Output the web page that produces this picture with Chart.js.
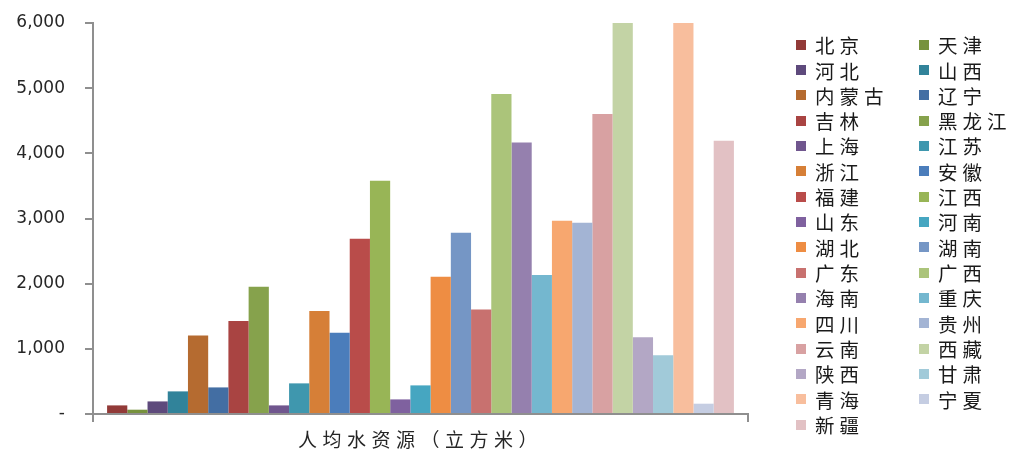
<!DOCTYPE html>
<html>
<head>
<meta charset="utf-8">
<script src="https://cdn.jsdelivr.net/npm/chart.js@4/dist/chart.umd.min.js"></script>
<style>
  html, body { margin: 0; padding: 0; background: #fff; }
  #wrap { position: relative; width: 1010px; height: 450px; }
  #legend {
    position: absolute; left: 796px; top: 32px;
    display: grid; grid-template-columns: 123px 100px; grid-auto-rows: 25.33px;
    font-family: "Noto Sans CJK SC", sans-serif; font-size: 19.5px; color: #1a1a1a;
    letter-spacing: 5px;
  }
  #legend div { display: flex; align-items: center; white-space: nowrap; }
  #legend span.box { width: 10px; height: 10px; margin-right: 9px; flex: none; }
</style>
</head>
<body>
<div id="wrap">
  <canvas id="graph" width="1010" height="450"></canvas>
  <div id="legend"></div>
</div>
<script>
// one category on the x axis
const categories = ['人均水资源（立方米）'];

const provinces = ['北京', '天津', '河北', '山西', '内蒙古', '辽宁', '吉林', '黑龙江',
  '上海', '江苏', '浙江', '安徽', '福建', '江西', '山东', '河南',
  '湖北', '湖南', '广东', '广西', '海南', '重庆', '四川', '贵州',
  '云南', '西藏', '陕西', '甘肃', '青海', '宁夏', '新疆'];

// values (西藏 and 青海 run past the top of the axis)
const waterPerCapita = [132, 66, 193, 347, 1206, 408, 1427, 1953,
  132, 470, 1580, 1248, 2690, 3580, 224, 439,
  2107, 2782, 1605, 4911, 4168, 2133, 2966, 2935,
  4604, 140000, 1176, 900, 16000, 158, 4194];

const provinceColors = ['#923A38', '#77923D', '#5E4A7C', '#31839A', '#B56B30', '#436EA3', '#A94442', '#86A24C',
  '#70568E', '#3F97AE', '#D67F37', '#4B7DBB', '#B94C4A', '#98B556', '#7F619F', '#46A6C1',
  '#EE8D43', '#7596C5', '#C8716F', '#ABC47A', '#9580AE', '#74B7CF', '#F7A76F', '#A3B4D4',
  '#D8A1A2', '#C3D3A5', '#B3A7C5', '#A1CAD9', '#F8BE9D', '#C5CDE2', '#E2C1C4'];

const yTicks = [0, 1000, 2000, 3000, 4000, 5000, 6000];

// spaced out text for the category label (drawn after the bars, z: 1)
const spacedTicks = {
    id: 'spacedTicks',
    afterDatasetsDraw(chart) { chart.ctx.letterSpacing = '5.5px'; },
    afterDraw(chart) { chart.ctx.letterSpacing = '0px'; }
};

const datasets = provinces.map((name, i) => ({
    label: name,
    data: [waterPerCapita[i]],
    backgroundColor: provinceColors[i],
    borderWidth: 0,
    categoryPercentage: 0.957,
    barPercentage: 1
}));

const graph = document.getElementById('graph').getContext('2d');
let myChart = new Chart(graph, {
    type: 'bar',
    data: { labels: categories, datasets: datasets },
    plugins: [spacedTicks],
    options: {
        responsive: false,
        animation: false,
        layout: { padding: { top: 23, right: 262, bottom: 0, left: 13 } },
        plugins: {
            legend: { display: false },
            tooltip: { enabled: false }
        },
        scales: {
            x: {
                afterFit(scale) { scale.height = 36; },
                grid: { drawOnChartArea: false, tickLength: 8, color: '#8f8f8f', lineWidth: 2 },
                border: { color: '#8f8f8f', width: 2 },
                ticks: {
                    z: 1,
                    padding: 8,
                    color: '#262626',
                    font: { family: '"Noto Sans CJK SC"', size: 19, lineHeight: 1 }
                }
            },
            y: {
                min: 0,
                max: 6000,
                afterFit(scale) {
                    scale.width = 80;
                    scale.paddingTop = 0;
                    scale.paddingBottom = 0;
                },
                afterBuildTicks(scale) { scale.ticks = yTicks.map(v => ({ value: v })); },
                grid: { drawOnChartArea: false, tickLength: 8, color: '#8f8f8f', lineWidth: 2 },
                border: { color: '#8f8f8f', width: 2 },
                ticks: {
                    padding: 20,
                    color: '#262626',
                    font: { family: '"DejaVu Sans"', size: 17 },
                    callback: v => v === 0 ? '-' : v.toLocaleString('en-US')
                }
            }
        }
    }
});

// legend, row by row in two columns like the original
const legend = document.getElementById('legend');
provinces.forEach((name, i) => {
    const item = document.createElement('div');
    const box = document.createElement('span');
    box.className = 'box';
    box.style.background = provinceColors[i];
    item.appendChild(box);
    item.appendChild(document.createTextNode(name));
    legend.appendChild(item);
});
</script>
</body>
</html>
